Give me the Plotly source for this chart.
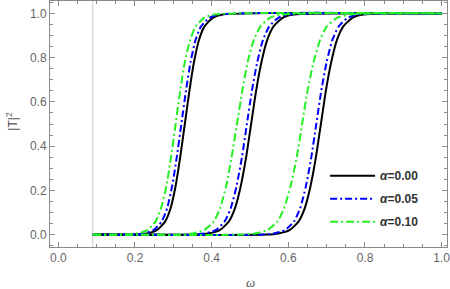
import plotly.graph_objects as go

# |T|^2 levels shared by all curves (omega at which each curve reaches these levels)
T2_levels = [0.0, 0.0, 0.005, 0.02, 0.06, 0.12, 0.22, 0.35, 0.5, 0.65, 0.78, 0.88, 0.94, 0.98, 0.995, 1.0]

omega_start = 0.09
omega_end = 1.0

w_a000 = [
    [0.231, 0.257, 0.279, 0.293, 0.306, 0.318, 0.330, 0.342, 0.354, 0.367, 0.381, 0.403, 0.429],
    [0.392, 0.421, 0.445, 0.461, 0.476, 0.490, 0.503, 0.516, 0.530, 0.545, 0.561, 0.585, 0.614],
    [0.574, 0.603, 0.627, 0.643, 0.658, 0.672, 0.685, 0.698, 0.712, 0.727, 0.743, 0.767, 0.796],
]
w_a005 = [
    [0.222, 0.248, 0.270, 0.284, 0.297, 0.309, 0.321, 0.333, 0.345, 0.358, 0.372, 0.394, 0.420],
    [0.381, 0.410, 0.434, 0.450, 0.465, 0.479, 0.492, 0.505, 0.519, 0.534, 0.550, 0.574, 0.603],
    [0.562, 0.591, 0.615, 0.631, 0.646, 0.660, 0.673, 0.686, 0.700, 0.715, 0.731, 0.755, 0.784],
]
w_a010 = [
    [0.206, 0.232, 0.254, 0.268, 0.282, 0.294, 0.306, 0.318, 0.330, 0.344, 0.358, 0.380, 0.407],
    [0.350, 0.380, 0.406, 0.422, 0.438, 0.452, 0.466, 0.480, 0.494, 0.510, 0.527, 0.552, 0.582],
    [0.512, 0.545, 0.572, 0.589, 0.606, 0.622, 0.636, 0.650, 0.666, 0.683, 0.700, 0.727, 0.760],
]

series = [
    ("<b><i>α</i>=0.00</b>", w_a000, "black", "solid"),
    ("<b><i>α</i>=0.05</b>", w_a005, "#0000ff", "7px,3px,2px,3px"),
    ("<b><i>α</i>=0.10</b>", w_a010, "#22f022", "8px,3px,2px,3px"),
]

fig = go.Figure()
for name, groups, color, dash in series:
    for i, w in enumerate(groups):
        xs = [omega_start, w[0] - 0.03] + w + [omega_end]
        fig.add_trace(go.Scatter(
            x=xs, y=T2_levels, mode="lines", name=name,
            line=dict(color=color, width=2, dash=dash, shape="spline", smoothing=0.6),
            showlegend=(i == 0), legendgroup=name,
        ))

fig.add_shape(type="line", x0=omega_start, x1=omega_start, y0=0, y1=1, yref="paper",
              line=dict(color="#cccccc", width=1), layer="below")

axis_common = dict(
    showgrid=False, zeroline=False, showline=True, linecolor="#8a8a8a", linewidth=1,
    mirror="ticks", ticks="inside", ticklen=5, tickcolor="#8a8a8a", automargin=False,
    ticklabeloverflow="allow",
    tickfont=dict(family="Liberation Sans, Arial", size=12, color="#666666"),
    minor=dict(ticks="inside", ticklen=3, tickcolor="#8a8a8a", dtick=0.05),
)

fig.update_xaxes(range=[-0.0217, 1.014], dtick=0.2, tickformat=".1f", **axis_common)
fig.update_yaxes(range=[-0.056, 1.056], dtick=0.2, tickformat=".1f", **axis_common)

fig.add_annotation(text="<i>ω</i>", xref="paper", yref="paper", x=0.505, y=-0.145,
                   xanchor="center", yanchor="middle", showarrow=False,
                   font=dict(family="Liberation Serif", size=13, color="#555555"))
fig.add_annotation(text="|T|<sup>2</sup>", xref="paper", yref="paper", x=-0.098, y=0.51,
                   xanchor="center", yanchor="middle", showarrow=False, textangle=-90,
                   font=dict(family="Liberation Sans, Arial", size=12, color="#555555"))

fig.update_layout(
    width=450, height=289,
    margin=dict(l=50, r=3, t=1, b=42),
    paper_bgcolor="white", plot_bgcolor="white",
    legend=dict(x=0.693, y=0.349, xanchor="left", yanchor="top", bgcolor="rgba(0,0,0,0)",
                font=dict(family="Liberation Sans, Arial", size=12, color="#333333"),
                tracegroupgap=4, itemwidth=45),
)

fig.write_html("out.html", config={"displayModeBar": False},
               post_script="document.body.style.margin='0';")
